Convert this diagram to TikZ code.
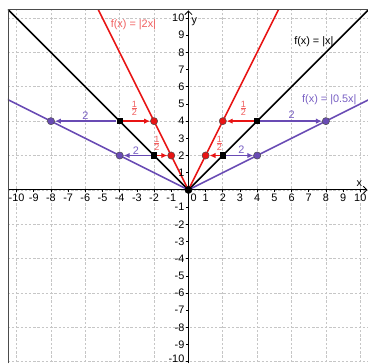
\documentclass[tikz,border=0pt]{standalone}
\usepackage{fontspec}
\setmainfont{Liberation Sans}
\usetikzlibrary{arrows.meta, positioning}

\definecolor{ggred}{RGB}{232,20,20}
\definecolor{ggredtxt}{RGB}{240,95,95}
\definecolor{ggpurple}{RGB}{105,75,180}
\definecolor{ggpurtxt}{RGB}{120,95,195}

\newcommand{\half}{{\fontsize{7.5}{8}\selectfont$\frac{\mbox{1}}{\mbox{2}}$}}

\begin{document}
\begin{tikzpicture}[x=0.5cm, y=0.5cm, font=\fontsize{9}{10}\selectfont,
    pt/.style={circle, draw=black!70, line width=0.4pt, inner sep=0pt, minimum size=6pt},
    sq/.style={rectangle, fill=black, inner sep=0pt, minimum size=5pt},
    vec/.style={-{Latex[length=5pt,width=4.5pt]}, line width=1.1pt}]
      \useasboundingbox (-10.965,-10.1) rectangle (10.45,11.05);

      % grid and graphs
      \begin{scope}
        \clip (-10.5,-10.1) rectangle (10.45,10.47);
        \draw[gray!45, line width=0.5pt, dash pattern=on 2pt off 1.5pt] (-11,-11) grid (11,11);
        \draw[line width=0.9pt] (-10.5,0) -- (10.4,0);
        \draw[line width=0.9pt] (0,-10.1) -- (0,10.4);
        \draw[-{Straight Barb[length=3pt]}, line width=0.7pt] (10.1,0) -- (10.42,0);
        \draw[-{Straight Barb[length=3pt]}, line width=0.7pt] (0,10.1) -- (0,10.44);
        \draw[black, line width=1.3pt] (-10.6,10.6) -- (0,0) -- (10.6,10.6);
        \draw[ggred, line width=1.3pt] (-5.3,10.6) -- (0,0) -- (5.3,10.6);
        \draw[ggpurple, line width=1.3pt] (-10.6,5.3) -- (0,0) -- (10.6,5.3);
      \end{scope}
      \draw[gray!60!black, line width=0.8pt] (-10.5,-10.1) -- (-10.5,10.47) -- (10.45,10.47);

      % ticks
      \foreach \i in {-10,...,-1,1,2,...,10} {
        \draw[line width=0.5pt] (\i,0) -- (\i,-0.15) node[below, inner sep=1pt] {\i};
      }
      \foreach \i in {-9,...,-1,1,2,...,10} {
        \draw[line width=0.5pt] (0,\i) -- (-0.15,\i) node[left, inner sep=1pt] {\i};
      }
      \draw[line width=0.5pt] (0,-10) -- (-0.15,-10) node[left, inner sep=1pt, yshift=2.5pt] {-10};
      \node[below right, inner sep=1pt] (zero) at (0.05,-0.15) {0};
      \node (xlab) at (9.95,0.35) {x};
      \node (ylab) at (0.35,9.8) {y};

      % points
      \node[sq] (bl4) at (-4,4) {};
      \node[sq] (bl2) at (-2,2) {};
      \node[sq] (br2) at (2,2) {};
      \node[sq] (br4) at (4,4) {};
      \node[pt, fill=ggred] (rl4) at (-2,4) {};
      \node[pt, fill=ggred] (rl2) at (-1,2) {};
      \node[pt, fill=ggred] (rr2) at (1,2) {};
      \node[pt, fill=ggred] (rr4) at (2,4) {};
      \node[pt, fill=ggpurple] (pl4) at (-8,4) {};
      \node[pt, fill=ggpurple] (pl2) at (-4,2) {};
      \node[pt, fill=ggpurple] (pr2) at (4,2) {};
      \node[pt, fill=ggpurple] (pr4) at (8,4) {};
      \node[pt, fill=black, draw=black] (orig) at (0,0) {};

      \draw[vec, ggred] (bl4) -- (rl4);
      \draw[vec, ggpurple] (bl4) -- (pl4);
      \draw[vec, ggred] (bl2) -- (rl2);
      \draw[vec, ggpurple] (bl2) -- (pl2);
      \draw[vec, ggred] (br4) -- (rr4);
      \draw[vec, ggpurple] (br4) -- (pr4);
      \draw[vec, ggred] (br2) -- (rr2);
      \draw[vec, ggpurple] (br2) -- (pr2);

      % labels
      \node[text=ggredtxt] (fracl4) at (-3.15,4.75) {\half};
      \node[text=ggredtxt] (fracl2) at (-1.84,2.7) {\half};
      \node[text=ggredtxt] (fracr4) at (3.2,4.75) {\half};
      \node[text=ggredtxt] (fracr2) at (1.8,2.7) {\half};
      \node[text=ggpurtxt] (twol4) at (-6,4.3) {2};
      \node[text=ggpurtxt] (twol2) at (-3.05,2.3) {2};
      \node[text=ggpurtxt] (twor4) at (6,4.35) {2};
      \node[text=ggpurtxt] (twor2) at (3.08,2.35) {2};
      \node[text=ggredtxt] (fred) at (-3.2,9.6) {f(x) = |2x|};
      \node (fblack) at (7.3,8.62) {f(x) = |x|};
      \node[text=ggpurtxt] (fpurple) at (8.2,5.25) {f(x) = |0.5x|};
    \end{tikzpicture}
\end{document}
